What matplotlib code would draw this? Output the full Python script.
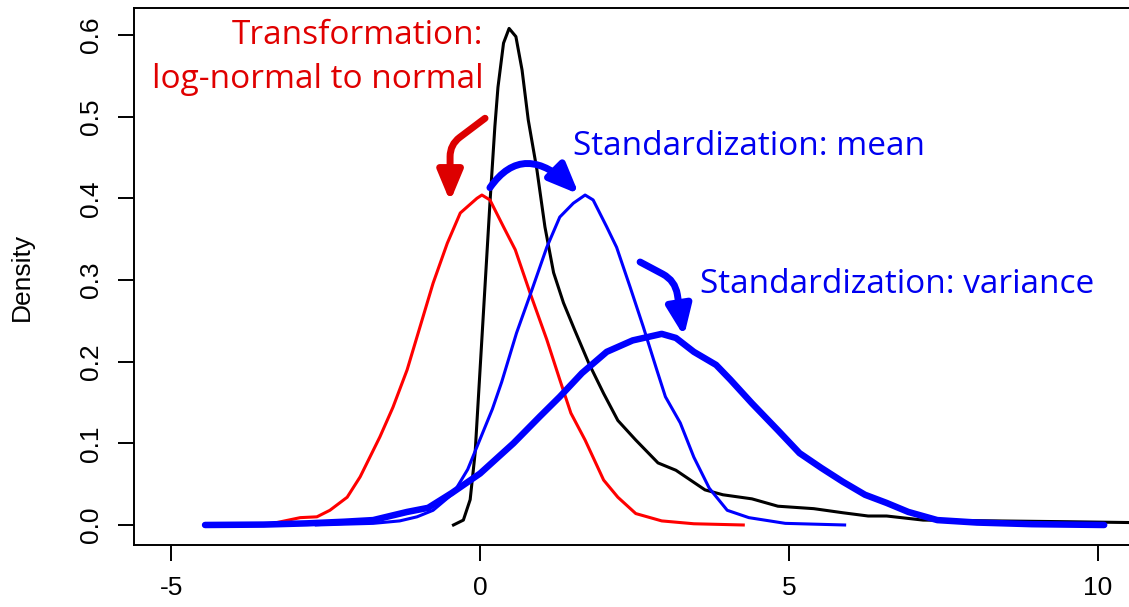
import matplotlib
matplotlib.use("Agg")
import matplotlib.pyplot as plt
from matplotlib.ticker import FormatStrFormatter

# black: log-normal density
lognorm_x = [-0.43, -0.27, -0.16, -0.08, 0.0, 0.08, 0.16, 0.24, 0.29, 0.38, 0.47, 0.58, 0.68, 0.78,
             0.92, 1.05, 1.19, 1.35, 1.53, 1.76, 2.0, 2.23, 2.52, 2.88, 3.17, 3.64, 3.93, 4.40,
             4.82, 5.40, 5.87, 6.28, 6.58, 7.17, 8.34, 9.51, 10.5, 11.5]
lognorm_y = [0.0, 0.006, 0.031, 0.088, 0.190, 0.292, 0.394, 0.488, 0.536, 0.590, 0.608, 0.598, 0.557, 0.496,
             0.435, 0.365, 0.309, 0.272, 0.239, 0.198, 0.161, 0.128, 0.104, 0.076, 0.067, 0.043, 0.037, 0.032,
             0.023, 0.020, 0.015, 0.011, 0.011, 0.006, 0.005, 0.004, 0.003, 0.002]

# red: after log transform
norm_x = [-4.45, -3.8, -3.35, -2.91, -2.64, -2.43, -2.15, -1.94, -1.62, -1.41, -1.18, -0.97, -0.76, -0.53,
          -0.32, -0.05, 0.03, 0.16, 0.38, 0.57, 0.81, 1.08, 1.29, 1.47, 1.70, 2.0, 2.23, 2.52, 2.94, 3.46, 4.26]
norm_y = [0.0, 0.0005, 0.002, 0.009, 0.010, 0.018, 0.034, 0.059, 0.108, 0.144, 0.190, 0.243, 0.296, 0.345,
          0.382, 0.400, 0.404, 0.398, 0.365, 0.337, 0.284, 0.227, 0.178, 0.137, 0.104, 0.055, 0.034, 0.014,
          0.005, 0.0015, 0.0]

# thin blue: mean shifted
mean_x = [-2.65, -2.2, -1.73, -1.3, -1.02, -0.76, -0.43, -0.2, 0.0, 0.2, 0.35, 0.59, 0.84, 1.08, 1.29,
          1.51, 1.70, 1.83, 2.05, 2.21, 2.43, 2.64, 2.86, 3.0, 3.24, 3.46, 3.71, 4.0, 4.35, 4.94, 5.9]
mean_y = [0.0, 0.001, 0.002, 0.005, 0.010, 0.018, 0.039, 0.068, 0.105, 0.142, 0.175, 0.235, 0.288, 0.340, 0.377,
          0.394, 0.404, 0.398, 0.365, 0.340, 0.291, 0.243, 0.190, 0.157, 0.125, 0.083, 0.045, 0.018, 0.009,
          0.002, 0.0]

# thick blue: variance scaled
var_x = [-4.45, -3.5, -2.8, -2.2, -1.73, -1.18, -0.84, -0.46, 0.0, 0.54, 0.97, 1.29, 1.65, 2.05, 2.47,
         2.94, 3.17, 3.46, 3.82, 4.05, 4.40, 4.82, 5.17, 5.52, 5.87, 6.23, 6.58, 6.93, 7.40, 8.04, 8.93, 10.1]
var_y = [0.0, 0.0005, 0.002, 0.004, 0.006, 0.016, 0.021, 0.039, 0.063, 0.100, 0.133, 0.157, 0.186, 0.212, 0.226,
         0.234, 0.229, 0.212, 0.196, 0.178, 0.149, 0.116, 0.088, 0.070, 0.053, 0.037, 0.027, 0.016, 0.006,
         0.003, 0.001, 0.0]

x_ticks = [-5, 0, 5, 10]
y_ticks = [0.0, 0.1, 0.2, 0.3, 0.4, 0.5, 0.6]

plt.rcParams['font.family'] = ['Liberation Sans', 'DejaVu Sans']
plt.rcParams['axes.unicode_minus'] = False

fig = plt.figure(figsize=(11.29, 6.07), dpi=100)
ax = fig.add_axes([134 / 1129, 62 / 607, 0.9031, 537 / 607])

ax.plot(lognorm_x, lognorm_y, color='black', lw=2.2)
ax.plot(norm_x, norm_y, color='#ff0000', lw=2.2)
ax.plot(mean_x, mean_y, color='#0000ff', lw=2.2)
ax.plot(var_x, var_y, color='#0000ff', lw=4.7, solid_capstyle='round')

ax.set_xlim(-5.6, 10.9)
ax.set_ylim(-0.0245, 0.633)
ax.set_xticks(x_ticks)
ax.set_yticks(y_ticks)
ax.yaxis.set_major_formatter(FormatStrFormatter('%.1f'))
ax.tick_params(direction='out', length=11.5, width=1.4, labelsize=19, pad=11)
ax.tick_params(axis='y', labelrotation=90)
for lab in ax.get_yticklabels():
    lab.set_va('center')
for s in ax.spines.values():
    s.set_linewidth(1.4)

ax.set_ylabel('Density', fontsize=19)
ax.yaxis.set_label_coords(-0.098, 0.5)

# annotations
red_txt = '#e00000'
blue_txt = '#0000f0'
afont = 'Open Sans'
ax.text(0.05, 0.589, 'Transformation:', color=red_txt, fontsize=24, family=afont, ha='right', va='baseline')
ax.text(0.05, 0.535, 'log-normal to normal', color=red_txt, fontsize=24, family=afont, ha='right', va='baseline')
ax.text(1.50, 0.453, 'Standardization: mean', color=blue_txt, fontsize=24, family=afont, ha='left', va='baseline')
ax.text(3.56, 0.284, 'Standardization: variance', color=blue_txt, fontsize=24, family=afont, ha='left', va='baseline')

head = '-|>,head_length=18,head_width=7.5'
ax.annotate('', xy=(-0.485, 0.396), xytext=(0.081, 0.498),
            arrowprops=dict(arrowstyle=head, color='#dd0000', lw=5, mutation_scale=1,
                            shrinkA=0, shrinkB=0, capstyle='round',
                            connectionstyle='angle,angleA=37,angleB=90,rad=12'))
ax.annotate('', xy=(1.60, 0.405), xytext=(0.16, 0.413),
            arrowprops=dict(arrowstyle=head, color='#0000ff', lw=5, mutation_scale=1,
                            shrinkA=0, shrinkB=0, capstyle='round',
                            connectionstyle='angle3,angleA=55,angleB=-45'))
ax.annotate('', xy=(3.30, 0.231), xytext=(2.59, 0.322),
            arrowprops=dict(arrowstyle=head, color='#0000ff', lw=5, mutation_scale=1,
                            shrinkA=0, shrinkB=0, capstyle='round',
                            connectionstyle='angle,angleA=-28,angleB=99,rad=14'))

fig.savefig('out.png', dpi=100)
